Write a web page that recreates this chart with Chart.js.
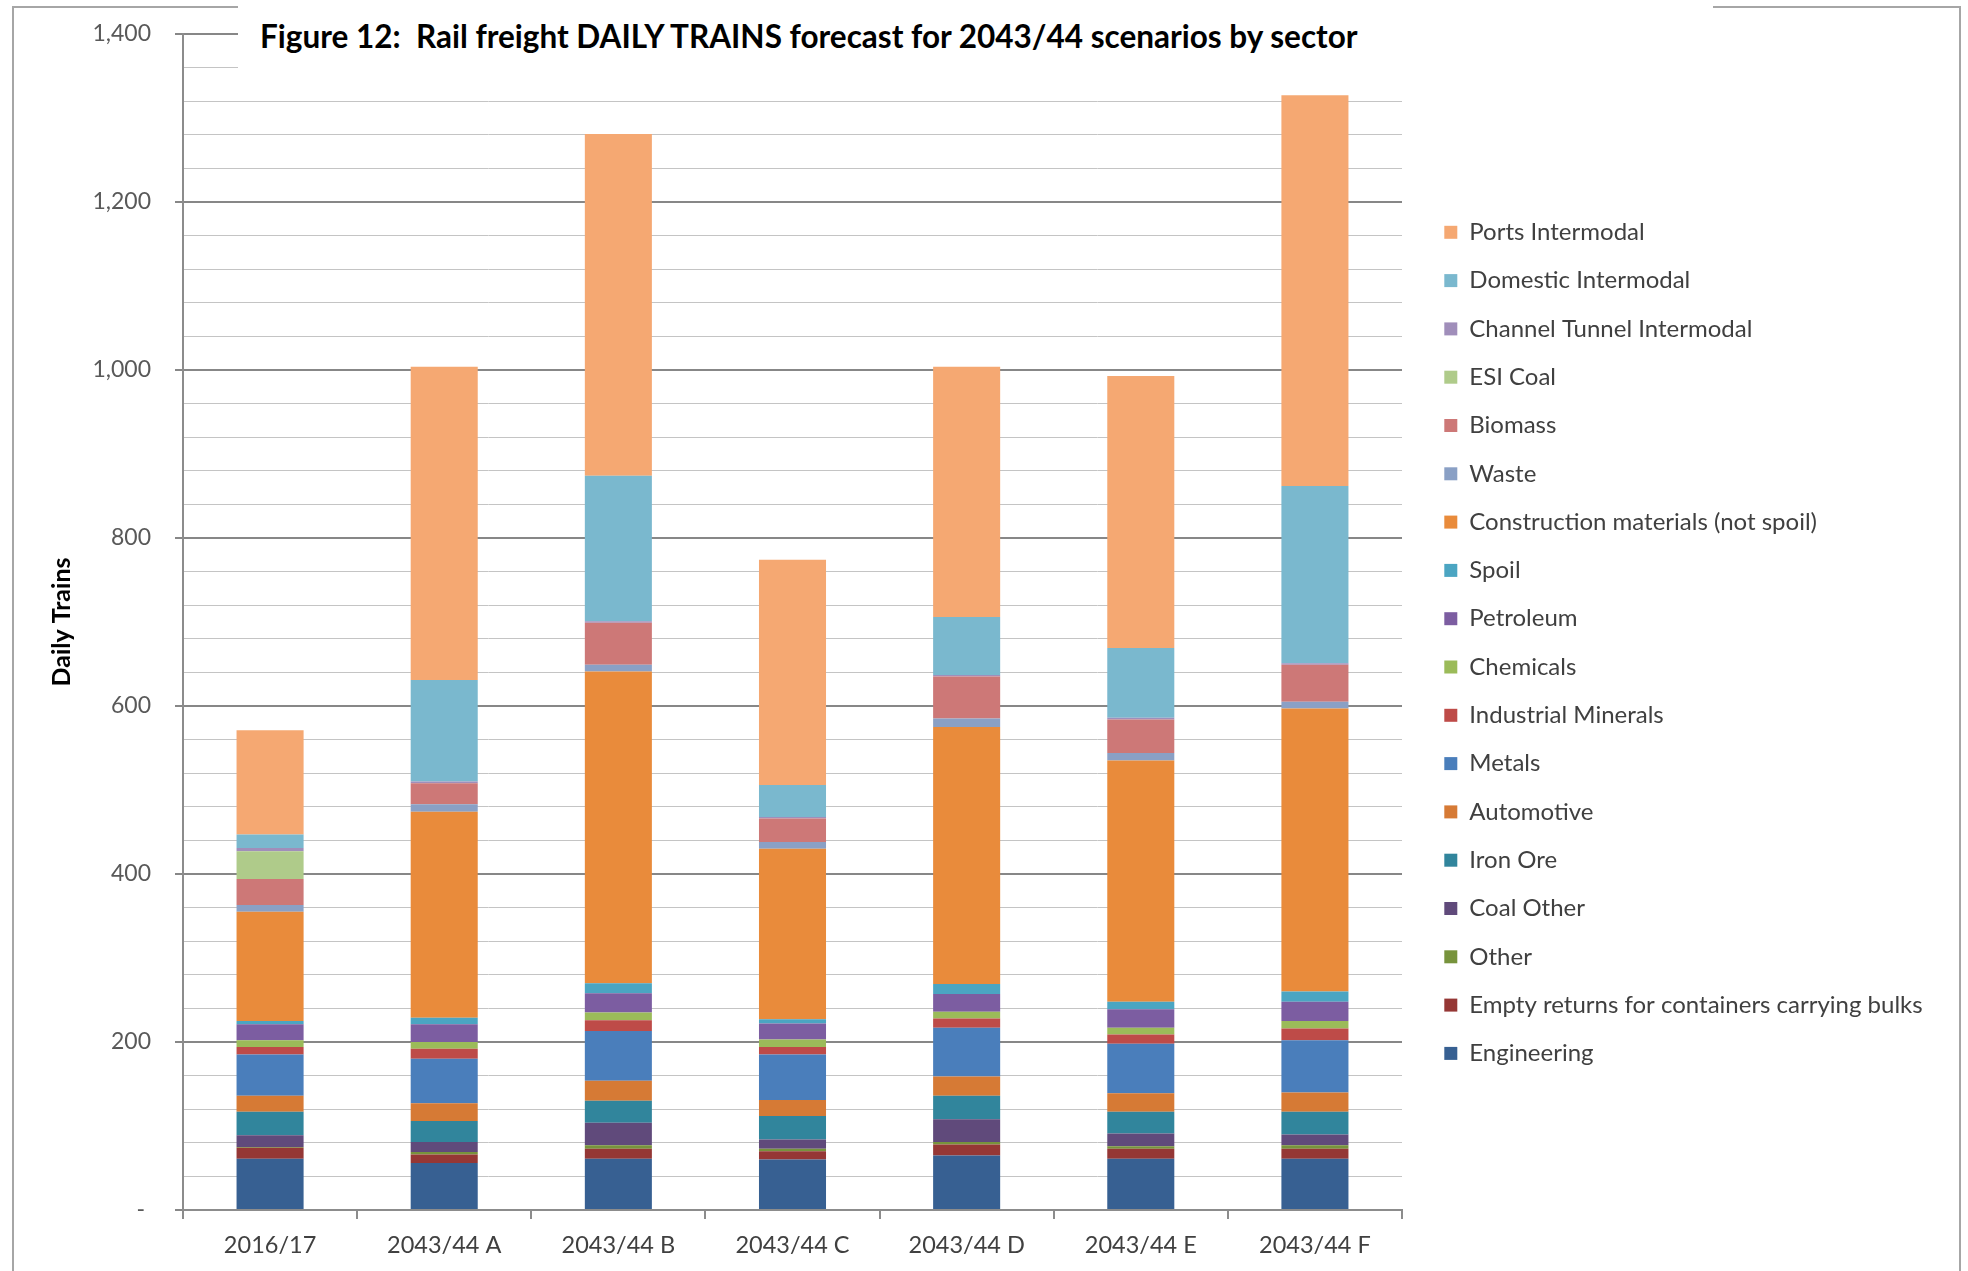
<!DOCTYPE html>
<html>
<head>
<meta charset="utf-8">
<title>Rail freight daily trains</title>
<script src="https://cdn.jsdelivr.net/npm/chart.js@4.4.1/dist/chart.umd.min.js"></script>
<style>
  html, body { margin: 0; padding: 0; background: #fff; }
  #wrap { position: relative; width: 1968px; height: 1271px; overflow: hidden; }
  #frame { position: absolute; left: 12px; top: 6px; width: 1945px; height: 1300px;
           border: 2px solid #a6a6a6; border-bottom: none; }
  #chart { position: absolute; left: 0; top: 0; }
  #title { position: absolute; left: 238px; top: 0; width: 1475px; height: 84px;
           box-sizing: border-box; padding: 17px 0 0 22px; background: #fff;
           font: bold 31.5px Lato, sans-serif; line-height: 38px; color: #000; white-space: nowrap; }
</style>
</head>
<body>
<div id="wrap">
  <div id="frame"></div>
  <canvas id="chart" width="1968" height="1271"></canvas>
  <div id="title">Figure 12:&nbsp; Rail freight DAILY TRAINS forecast for 2043/44 scenarios by sector</div>
</div>
<script>
// daily trains by sector (stacked bottom to top)
const categories = ['2016/17', '2043/44 A', '2043/44 B', '2043/44 C', '2043/44 D', '2043/44 E', '2043/44 F'];

const engineering        = [61, 56, 61, 60, 65, 61, 61];
const emptyReturns       = [13, 10, 12, 10, 13, 12, 12];
const other              = [1, 3, 4, 3, 3, 3, 4];
const coalOther          = [14, 12, 27, 11, 27, 15, 13];
const ironOre            = [28, 25, 26, 28, 28, 26, 27];
const automotive         = [19, 21, 24, 19, 23, 22, 23];
const metals             = [49, 53, 59, 54, 58, 59, 62];
const industrialMinerals = [9, 12, 13, 9, 11, 11, 14];
const chemicals          = [8, 8, 9, 9, 8, 8, 9];
const petroleum          = [19, 21, 23, 19, 21, 22, 23];
const spoil              = [4, 8, 12, 5, 12, 9, 12];
const construction       = [130, 245, 371, 203, 306, 287, 337];
const waste              = [8, 9, 8, 8, 10, 9, 8];
const biomass            = [31, 25, 50, 28, 50, 40, 44];
const esiCoal            = [33, 0, 0, 0, 0, 0, 0];
const channelTunnel      = [4, 2, 2, 2, 2, 2, 2];
const domestic           = [16, 121, 173, 38, 69, 83, 211];
const ports              = [124, 373, 407, 268, 298, 324, 465];

const yMax = 1400;
const yMinorStep = 40;
const yMajorStep = 200;

const series = [
  ['Engineering', engineering],
  ['Empty returns for containers carrying bulks', emptyReturns],
  ['Other', other],
  ['Coal Other', coalOther],
  ['Iron Ore', ironOre],
  ['Automotive', automotive],
  ['Metals', metals],
  ['Industrial Minerals', industrialMinerals],
  ['Chemicals', chemicals],
  ['Petroleum', petroleum],
  ['Spoil', spoil],
  ['Construction materials (not spoil)', construction],
  ['Waste', waste],
  ['Biomass', biomass],
  ['ESI Coal', esiCoal],
  ['Channel Tunnel Intermodal', channelTunnel],
  ['Domestic Intermodal', domestic],
  ['Ports Intermodal', ports]
];

const colours = {
  'Engineering': '#376092',
  'Empty returns for containers carrying bulks': '#953735',
  'Other': '#77933c',
  'Coal Other': '#604a7b',
  'Iron Ore': '#31859c',
  'Automotive': '#d67a35',
  'Metals': '#4a7ebb',
  'Industrial Minerals': '#be4b48',
  'Chemicals': '#9bbb59',
  'Petroleum': '#7c5da1',
  'Spoil': '#4ba5c2',
  'Construction materials (not spoil)': '#e98b3b',
  'Waste': '#8aa0c5',
  'Biomass': '#cd7877',
  'ESI Coal': '#afcb8a',
  'Channel Tunnel Intermodal': '#a08eba',
  'Domestic Intermodal': '#7ab8ce',
  'Ports Intermodal': '#f5a872'
};

Chart.defaults.font.family = 'Lato, sans-serif';

const datasets = series.map(([label, data]) => ({
  label: label,
  data: data,
  yAxisID: 'y',
  backgroundColor: colours[label],
  borderColor: colours[label],
  borderWidth: 0,
  barPercentage: 0.385,
  categoryPercentage: 1
}));

// legend needs a fixed width, the layout would cap it otherwise
const LEGEND_W = 548;
const legendWidth = {
  id: 'legendWidth',
  beforeLayout(chart) {
    const lg = chart.legend;
    if (lg && !lg._fixed) {
      const fit = lg.fit;
      lg.fit = function () { fit.call(this); this.width = LEGEND_W; };
      lg._fixed = true;
    }
  }
};

const major = v => v % yMajorStep === 0;

new Chart(document.getElementById('chart').getContext('2d'), {
  type: 'bar',
  data: { labels: categories, datasets: datasets },
  plugins: [legendWidth],
  options: {
    responsive: false,
    animation: false,
    layout: { padding: { top: 34, left: 0, right: 0, bottom: 12 } },
    plugins: {
      tooltip: { enabled: false },
      legend: {
        position: 'right',
        align: 'start',
        reverse: true,
        title: { display: true, text: '', font: { size: 10 }, padding: { top: 150, bottom: 0 } },
        labels: { boxWidth: 13, boxHeight: 13, padding: 24.3, color: '#404040', font: { size: 24 } }
      }
    },
    scales: {
      x: {
        stacked: true,
        afterFit(s) { s.height = 49; },
        grid: { display: true, drawOnChartArea: false, drawTicks: true, tickLength: 9,
                color: '#8c8c8c', lineWidth: 2, offset: true },
        border: { color: '#8c8c8c', width: 2 },
        ticks: { color: '#404040', font: { size: 23.5 }, padding: 12 }
      },
      y: {
        stacked: true,
        min: 0,
        max: yMax,
        afterFit(s) { s.width = 183; s.paddingTop = 12; s.paddingBottom = 12; },
        ticks: {
          stepSize: yMinorStep,
          autoSkip: false,
          padding: 24,
          color: '#595959',
          font: { size: 23 },
          callback: v => v === 0 ? '- ' : (major(v) ? v.toLocaleString('en-US') : '')
        },
        grid: {
          tickLength: 8,
          color: ctx => major(ctx.tick.value) ? '#878787' : '#c4c4c4',
          lineWidth: ctx => major(ctx.tick.value) ? 2 : 1,
          tickColor: ctx => major(ctx.tick.value) ? '#878787' : 'rgba(0,0,0,0)'
        },
        border: { color: '#8c8c8c', width: 2 },
        title: { display: true, text: 'Daily Trains', color: '#000',
                 font: { size: 25, weight: 'bold' }, padding: { top: 47, bottom: 0 } }
      },
      gap: {
        type: 'linear',
        position: 'right',
        display: true,
        afterFit(s) { s.width = 18; },
        grid: { display: false },
        border: { display: false },
        ticks: { display: false }
      }
    }
  }
});
</script>
</body>
</html>
